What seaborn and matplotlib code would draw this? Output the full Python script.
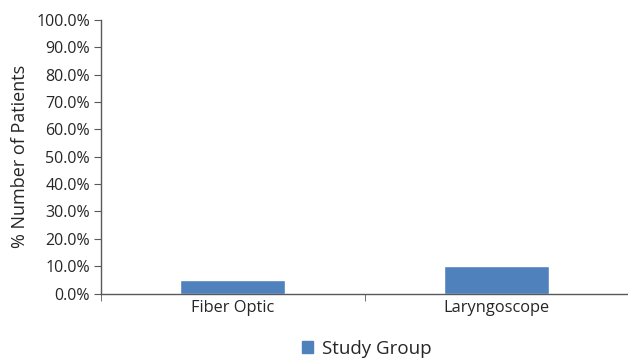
import numpy as np
import pandas as pd
import seaborn as sb
import matplotlib as mpl
import matplotlib.pyplot as plt
import matplotlib.ticker as ticker
from matplotlib.patches import Patch

# data
groups = ['Fiber Optic', 'Laryngoscope']
pct_patients = [5.0, 10.0]
series_name = 'Study Group'

sb.set_style('white')
mpl.rcParams['font.family'] = ['Open Sans', 'DejaVu Sans']
mpl.rcParams['text.color'] = '#262626'
mpl.rcParams['xtick.color'] = '#262626'
mpl.rcParams['ytick.color'] = '#262626'
mpl.rcParams['axes.labelcolor'] = '#262626'

df = pd.DataFrame({'group': groups, 'pct': pct_patients})

fig = plt.figure(figsize=(6.28, 3.59), dpi=100)
ax = fig.add_axes([101/628, 65.5/359, 1 - 101/628, 273.5/359])

sb.barplot(data=df, x='group', y='pct', color='#4F81BD', saturation=1,
           width=0.4, ax=ax)

ax.set_xlim(-0.5, 1.5)
ax.set_ylim(0, 100)
ax.set_yticks(np.arange(0, 101, 10))
ax.yaxis.set_major_formatter(ticker.FuncFormatter(lambda v, p: '{:.1f}%'.format(v)))
ax.set_xlabel('')
ax.set_ylabel('% Number of Patients', fontsize=13, labelpad=5)

for s in ['top', 'right']:
    ax.spines[s].set_visible(False)
for s in ['left', 'bottom']:
    ax.spines[s].set_color('#595959')
    ax.spines[s].set_linewidth(1.0)

ax.tick_params(axis='y', which='major', length=5, color='#595959', left=True,
               labelsize=11.5, pad=3)
ax.set_xticks([-0.5, 0.5, 1.5], minor=True)
ax.tick_params(axis='x', which='major', length=0, labelsize=11.8, pad=5)
ax.tick_params(axis='x', which='minor', length=5, color='#595959', bottom=True)

fig.legend(handles=[Patch(color='#4F81BD', label=series_name)],
           loc='center', bbox_to_anchor=(367/628, 1 - 349/359),
           frameon=False, fontsize=13.5, handlelength=0.6, handleheight=0.6,
           handletextpad=0.5)

fig.savefig('out.png', dpi=100)
